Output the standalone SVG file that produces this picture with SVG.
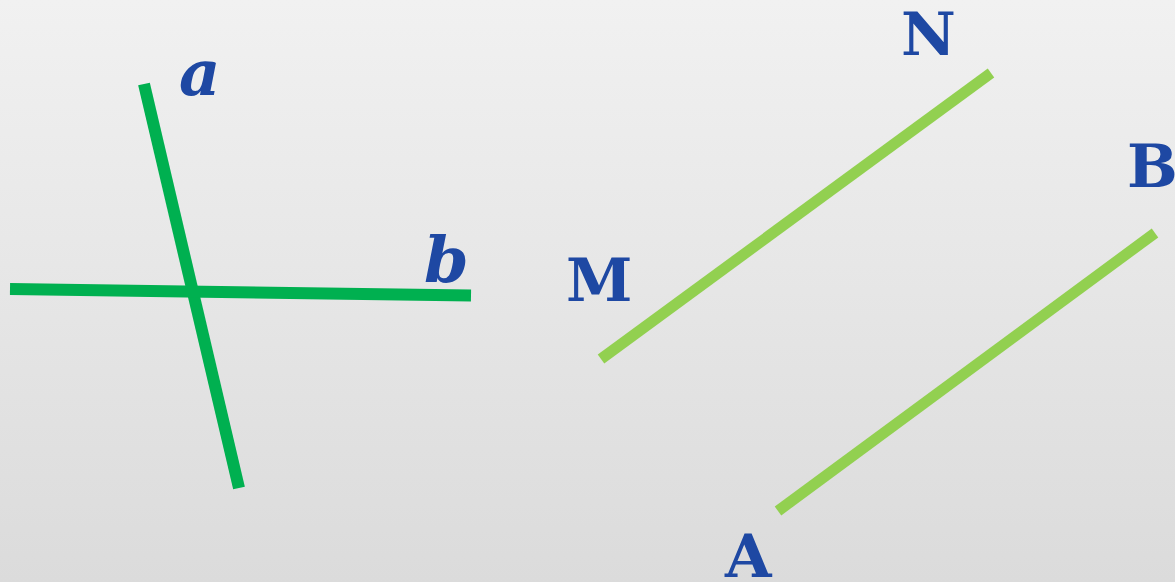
<svg xmlns="http://www.w3.org/2000/svg" width="1175" height="582" viewBox="0 0 1175 582">
<defs>
<linearGradient id="bg" x1="0" y1="0" x2="0" y2="1">
<stop offset="0" stop-color="#f1f1f1"/>
<stop offset="1" stop-color="#dbdbdb"/>
</linearGradient>
</defs>
<style>
.lbl{font-family:"DejaVu Serif","Liberation Serif",serif;font-weight:bold;fill:#1e48a3;font-size:60px}
.it{font-style:italic;font-size:64px}
.dk{stroke:#00b050;stroke-width:12;fill:none}
.lt{stroke:#92d050;stroke-width:11;fill:none}
</style>
<rect width="1175" height="582" fill="url(#bg)"/>
<g id="connectors">
<line class="dk" x1="144" y1="84" x2="239" y2="488"/>
<line class="dk" x1="10" y1="289" x2="471" y2="295.5"/>
<line class="lt" x1="601" y1="359" x2="991" y2="73"/>
<line class="lt" x1="778" y1="511" x2="1155" y2="233"/>
</g>
<g id="label-a"><text class="lbl it" x="179" y="95">a</text></g>
<g id="label-b"><text class="lbl it" x="424" y="282">b</text></g>
<g id="label-M"><text class="lbl" x="566" y="301">M</text></g>
<g id="label-N"><text class="lbl" x="901" y="55">N</text></g>
<g id="label-B"><text class="lbl" x="1127" y="187">B</text></g>
<g id="label-A"><text class="lbl" x="725" y="577">A</text></g>
</svg>
